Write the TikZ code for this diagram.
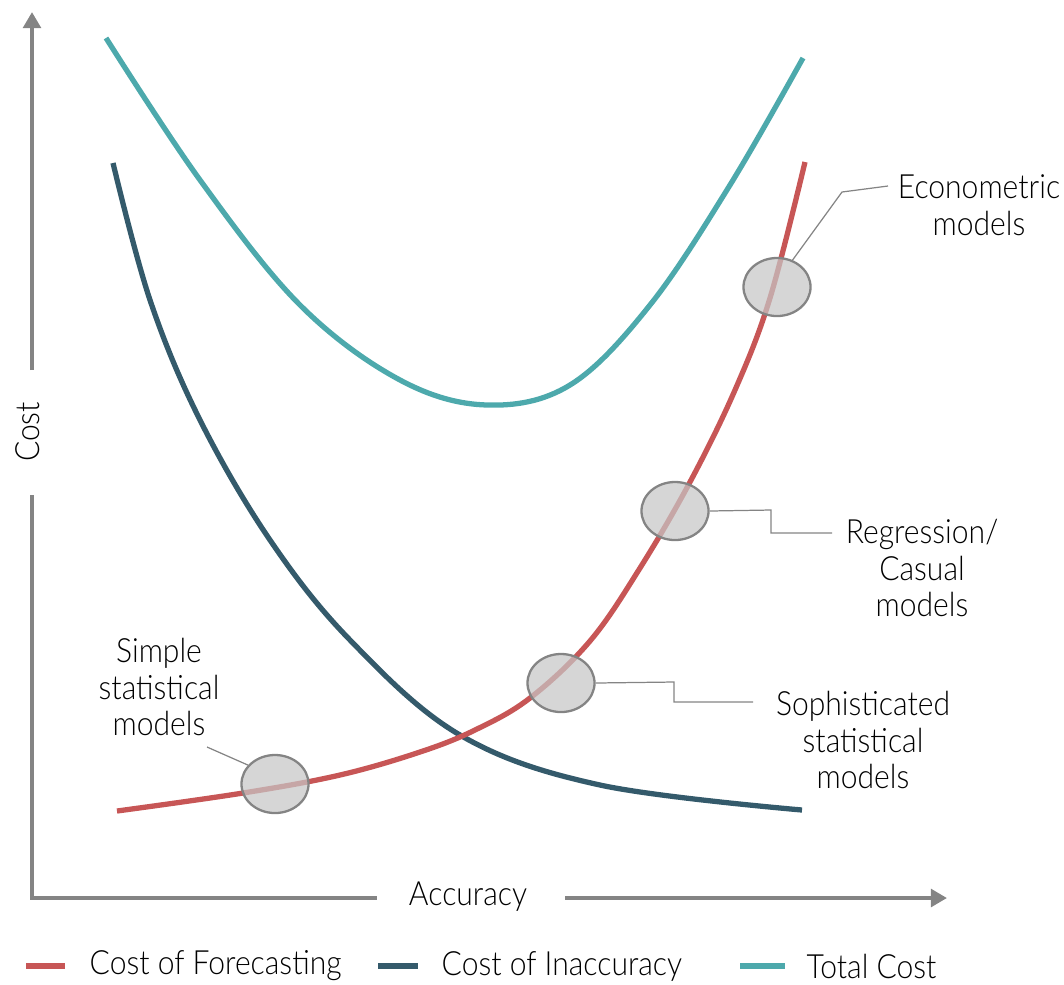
\documentclass[tikz,border=0pt]{standalone}
\usepackage{fontspec}
\setmainfont{Lato Light}[FakeStretch=0.9]
\usetikzlibrary{arrows.meta,shapes.geometric}
\definecolor{fcred}{HTML}{C75656}
\definecolor{inacc}{HTML}{345A6B}
\definecolor{total}{HTML}{4DA9AC}
\definecolor{axisgray}{HTML}{848484}
\tikzset{
  axis/.style={axisgray,line width=1.15pt},
  axisarrow/.style={axis,-{Triangle[length=4.6pt,width=5pt]}},
  curve/.style={line width=1.5pt,smooth,tension=0.6},
  model/.style={ellipse,draw=axisgray,fill=gray!45,fill opacity=0.72,line width=0.65pt,
    minimum width=0.67cm,minimum height=0.58cm,inner sep=0pt},
  lbl/.style={align=center,font=\fontsize{9.5}{10.5}\selectfont,inner sep=0pt},
  callout/.style={axisgray,line width=0.35pt},
  legline/.style={line width=1.5pt}
}
\begin{document}
\begin{tikzpicture}[x=0.01cm,y=-0.01cm]
\useasboundingbox (0,0) rectangle (1064,984);
% axes
\coordinate (ytop) at (32,12);
\coordinate (ygap) at (32,370);
\coordinate (ylow) at (32,495);
\coordinate (orig) at (32,898);
\coordinate (xgap) at (377,898);
\coordinate (xres) at (565,898);
\coordinate (xend) at (947,898);
\draw[axisarrow] (ygap) -- (ytop);
\draw[axis] (ylow) -- (orig) -- (xgap);
\draw[axisarrow] (xres) -- (xend);
\node[lbl,rotate=90] (ylab) at (28,432) {Cost};
\node[lbl] (xlab) at (468,897) {Accuracy};
% curves
\draw[curve,total] plot coordinates {(106,38) (200,180) (300,305) (400,380) (487,405)
  (570,385) (650,305) (730,185) (803,58)};
\draw[curve,inacc] plot coordinates {(113,163) (150,300) (200,420) (270,540) (350,640)
  (460,735) (600,785) (802,810)};
\draw[curve,fcred] plot coordinates {(117,811) (243,793) (340,775) (420,752) (475,730)
  (530,698) (590,641) (640,568) (690,482) (735,390) (770,298) (805,162)};
% models
\node[model] (simple) at (275,784) {};
\node[model] (soph) at (561,683) {};
\node[model] (regr) at (675,511) {};
\node[model] (econ) at (777,287) {};
\node[lbl] (simplelbl) at (159,687) {Simple\\statistical\\models};
\node[lbl] (sophlbl) at (863,740) {Sophisticated\\statistical\\models};
\node[lbl] (regrlbl) at (922,568) {Regression/\\Casual\\models};
\node[lbl] (econlbl) at (979,205) {Econometric\\models};
\draw[callout] (econ.60) -- (842,192) -- (888,186);
\draw[callout] (regr.east) -- (771,510) -- (771,533) -- (832,533);
\draw[callout] (soph.east) -- (674,682) -- (674,702) -- (753,702);
\draw[callout] (simple.145) -- (207,747);
% legend
\draw[legline,fcred] (26,966) -- (65,966);
\node[lbl,anchor=west] (legfc) at (89,966) {Cost of Forecasting};
\draw[legline,inacc] (378,966) -- (418,966);
\node[lbl,anchor=west] (legin) at (441,966) {Cost of Inaccuracy};
\draw[legline,total] (740,966) -- (785,966);
\node[lbl,anchor=west] (legtc) at (806,966) {Total Cost};
\end{tikzpicture}
\end{document}
